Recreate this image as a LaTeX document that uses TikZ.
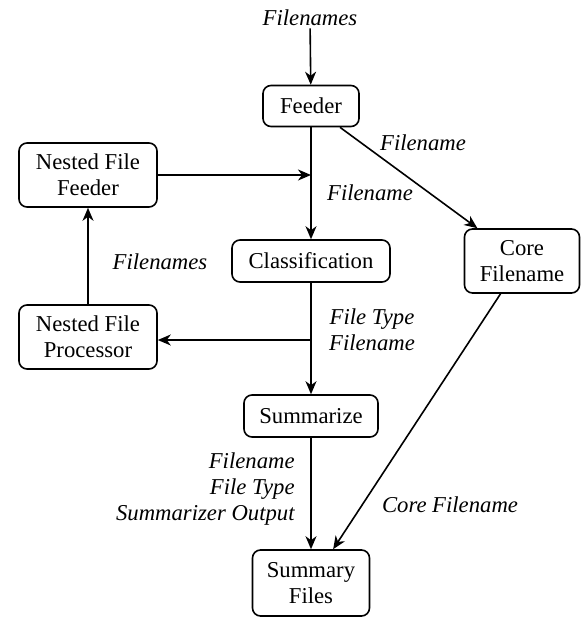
\documentclass[tikz,border=0pt]{standalone}
\usepackage{fontspec}
\setmainfont{Liberation Serif}
\usetikzlibrary{arrows.meta}

\tikzset{
	block/.style={draw, rounded corners=4pt, line width=0.8pt, align=center, inner sep=2pt, font=\fontsize{11.35}{13}\selectfont},
	flow/.style={draw, line width=0.8pt, -{Stealth[length=6.5pt,width=5.5pt,inset=2pt]}},
	tag/.style={font=\fontsize{11.35}{13}\selectfont\itshape, align=center, inner sep=1pt}
}

\begin{document}
\begin{tikzpicture}[x=0.5pt,y=-0.5pt]
	\useasboundingbox (0,0) rectangle (582,617);
	\node[tag] (input) at (310,18) {Filenames};
	\node[block, minimum width=48pt, minimum height=20.5pt] (feeder) at (311,106) {Feeder};
	\node[block, minimum width=69pt, minimum height=32pt] (nestfeed) at (88,175) {Nested File\\Feeder};
	\node[block, minimum width=79pt, minimum height=21pt] (classify) at (311,261) {Classification};
	\node[block, minimum width=57.5pt, minimum height=32pt] (core) at (522,261) {Core\\Filename};
	\node[block, minimum width=69pt, minimum height=32pt] (nestproc) at (88,337) {Nested File\\Processor};
	\node[block, minimum width=67pt, minimum height=21pt] (summarize) at (311,416) {Summarize};
	\node[block, minimum width=58.5pt, minimum height=33pt] (summary) at (311,583) {Summary\\Files};
	\coordinate (join) at (311,175);
	\coordinate (split) at (311,340);
	\draw[flow] (input) -- (feeder);
	\draw[flow] (feeder) -- (classify);
	\draw[flow] (nestfeed.east |- join) -- (join);
	\draw[flow] (feeder) -- (core);
	\draw[flow] (split) -- (nestproc.east |- split);
	\draw[flow] (nestproc) -- (nestfeed);
	\draw[flow] (classify) -- (summarize);
	\draw[flow] (summarize) -- (summary);
	\draw[flow] (core) -- (summary);
	\node[tag] (lblcore) at (423,143) {Filename};
	\node[tag] (lblclass) at (370,193) {Filename};
	\node[tag] (lblnest) at (160,262) {Filenames};
	\node[tag] (lbltype) at (372,330) {File Type\\Filename};
	\node[tag, anchor=east, align=right] (lblsum) at (297,489) {Filename\\File Type\\Summarizer Output};
	\node[tag] (lblout) at (450,505) {Core Filename};
\end{tikzpicture}
\end{document}
